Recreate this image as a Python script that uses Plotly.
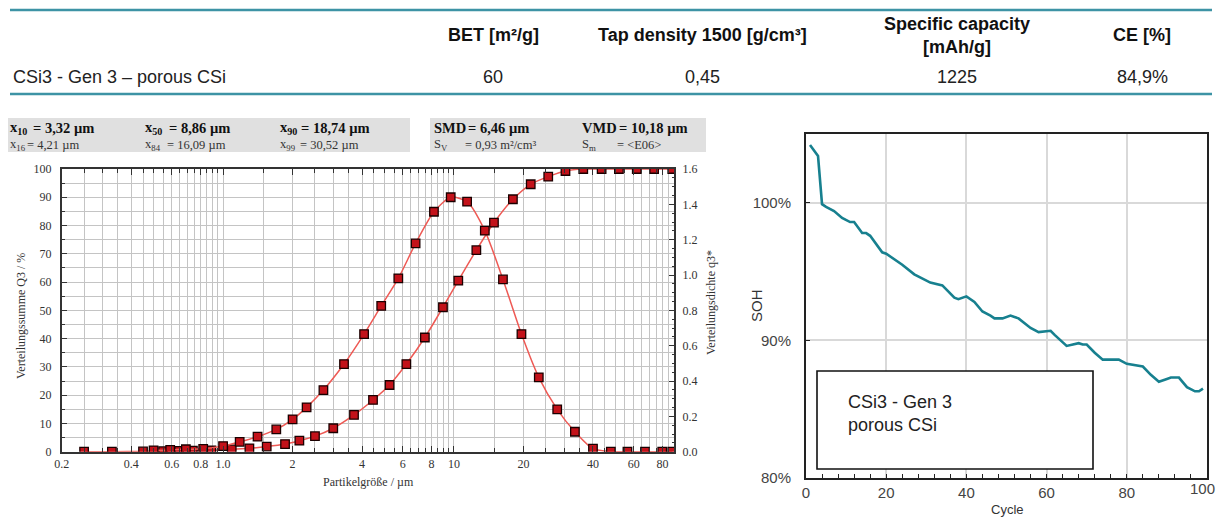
import plotly.graph_objects as go
import math

# page has an 8px body margin; the figure fills the rest of the 1224x526 window
OFF = 8
W, H = 1224 - OFF, 526 - 2 * OFF

# ---------------- data ----------------
TABLE_HEADERS = ["BET [m²/g]", "Tap density 1500 [g/cm³]", "Specific capacity<br>[mAh/g]", "CE [%]"]
TABLE_ROW_LABEL = "CSi3 - Gen 3 – porous CSi"
TABLE_VALUES = ["60", "0,45", "1225", "84,9%"]

STATS_LINE1 = [("x<sub>10</sub>", "= 3,32 µm"), ("x<sub>50</sub>", "= 8,86 µm"), ("x<sub>90</sub>", "= 18,74 µm"),
               ("SMD", "= 6,46 µm"), ("VMD", "= 10,18 µm")]
STATS_LINE2 = [("x<sub>16</sub>", "= 4,21 µm"), ("x<sub>84</sub>", "= 16,09 µm"), ("x<sub>99</sub>", "= 30,52 µm"),
               ("S<sub>V</sub>", "= 0,93 m²/cm³"), ("S<sub>m</sub>", "= &lt;E06&gt;")]

# cumulative distribution Q3 [%]
Q3_SIZE = [0.25, 0.33, 0.45, 0.55, 0.645, 0.74, 0.89, 1.09, 1.30, 1.545, 1.855, 2.14, 2.50, 3.0, 3.69,
           4.46, 5.26, 6.22, 7.48, 8.96, 10.44, 12.5, 14.9, 18.0, 21.5, 25.6, 30.4, 36.3, 43.6, 51.8,
           61.9, 73.6, 88.2]
Q3_VAL = [0, 0, 0.1, 0.2, 0.3, 0.4, 0.5, 0.8, 1.2, 1.8, 2.7, 3.9, 5.5, 8.3, 13.0,
          18.3, 23.6, 31.0, 40.4, 51.1, 60.5, 71.3, 81.0, 89.3, 94.6, 97.3, 99.3, 100, 100, 100,
          100, 100, 100]

# density distribution q3*
q3_SIZE = [0.50, 0.59, 0.69, 0.82, 1.0, 1.18, 1.41, 1.70, 2.0, 2.30, 2.72, 3.34, 4.08, 4.84, 5.74,
           6.82, 8.19, 9.68, 11.4, 13.6, 16.3, 19.6, 23.3, 28.0, 33.4, 40.0, 47.8, 56.4, 67.2, 79.8, 88.2]
q3_VAL = [0.008, 0.010, 0.014, 0.016, 0.032, 0.056, 0.085, 0.126, 0.183, 0.251, 0.349, 0.496, 0.666, 0.825, 0.981,
          1.179, 1.358, 1.440, 1.415, 1.251, 0.975, 0.666, 0.421, 0.240, 0.113, 0.017, 0, 0, 0, 0, 0]

PSD_XLABELS = [0.2, 0.4, 0.6, 0.8, 1.0, 2, 4, 6, 8, 10, 20, 40, 60, 80]
PSD_XTEXT = ["0.2", "0.4", "0.6", "0.8", "1.0", "2", "4", "6", "8", "10", "20", "40", "60", "80"]

# state of health
CYCLE = [1, 3, 4, 5, 7, 9, 11, 12, 14, 15, 16, 19, 20, 22, 24, 27, 29, 31, 34, 37, 38, 40, 42, 44, 46, 47,
         49, 51, 52, 53, 56, 58, 61, 62, 65, 68, 69, 70, 72, 74, 77, 78, 80, 84, 86, 88, 90, 91, 93, 95,
         97, 98, 99]
SOH = [104.2, 103.4, 99.9, 99.7, 99.4, 98.9, 98.6, 98.6, 97.8, 97.8, 97.6, 96.4, 96.3, 95.9, 95.5, 94.8,
       94.5, 94.2, 94.0, 93.1, 93.0, 93.2, 92.8, 92.1, 91.8, 91.6, 91.6, 91.8, 91.7, 91.6, 90.9, 90.6,
       90.7, 90.4, 89.6, 89.8, 89.7, 89.7, 89.1, 88.6, 88.6, 88.6, 88.3, 88.1, 87.5, 87.0, 87.2, 87.3,
       87.3, 86.6, 86.3, 86.3, 86.5]
CYCLE_TICKS = [0, 20, 40, 60, 80, 100]
SOH_TICKS = [80, 90, 100]
SOH_TICKTEXT = ["80%", "90%", "100%"]
SOH_LEGEND = "CSi3 - Gen 3<br>porous CSi"


# ---------------- helpers (reference-pixel -> paper) ----------------
def X(p):
    return (p - OFF) / W


def Y(p):
    return 1 - (p - OFF) / H


SANS = "Liberation Sans, Arial, sans-serif"
SERIF = "Liberation Serif, Times New Roman, serif"
RED_LINE = "#ee5a55"
RED_FILL = "#c3121a"
TEAL = "#17808f"
PSD_GRID = "#c4c4c4"

fig = go.Figure()

marker_style = dict(symbol="square", size=8.5, color=RED_FILL, line=dict(color="#1a0000", width=1.3))
fig.add_trace(go.Scatter(
    x=Q3_SIZE, y=Q3_VAL, mode="lines+markers", xaxis="x", yaxis="y",
    line=dict(color=RED_LINE, width=1.5, shape="spline", smoothing=0.7),
    marker=marker_style, showlegend=False, name="Q3"))
fig.add_trace(go.Scatter(
    x=q3_SIZE, y=q3_VAL, mode="lines+markers", xaxis="x", yaxis="y2",
    line=dict(color=RED_LINE, width=1.5, shape="spline", smoothing=0.7),
    marker=marker_style, showlegend=False, name="q3*"))
fig.add_trace(go.Scatter(
    x=CYCLE, y=SOH, mode="lines", xaxis="x2", yaxis="y3",
    line=dict(color=TEAL, width=2.6), showlegend=False, name="SOH"))

# minor grid positions for the log axis (every half step of the mantissa)
grid_vals = []
for dec in (0.1, 1, 10):
    m = 1.0
    while m < 10 - 1e-9:
        v = round(m * dec, 4)
        if 0.2 - 1e-9 <= v <= 90 + 1e-9:
            grid_vals.append(v)
        m += 0.5

psd_font = dict(family=SERIF, size=12, color="#333")
soh_tick_font = dict(family=SANS, size=15, color="#444")

fig.update_layout(
    width=W, height=H, margin=dict(l=0, r=0, t=0, b=0, autoexpand=False),
    paper_bgcolor="white", plot_bgcolor="white",
    xaxis=dict(domain=[X(61.7), X(674.3)], anchor="y", type="log", automargin=False,
               range=[math.log10(0.2), math.log10(90)],
               tickvals=PSD_XLABELS, ticktext=PSD_XTEXT, ticks="inside", ticklen=6, tickcolor="#333",
               showgrid=True, gridcolor=PSD_GRID, gridwidth=1,
               minor=dict(tickvals=grid_vals, ticks="inside", ticklen=4, tickcolor="#333",
                          showgrid=True, gridcolor=PSD_GRID, gridwidth=1),
               showline=True, linecolor="#333", linewidth=1.5, mirror="ticks",
               tickfont=psd_font, zeroline=False),
    yaxis=dict(domain=[Y(451.7), Y(169)], anchor="x", range=[0, 100], automargin=False,
               dtick=10, tick0=0, ticks="inside", ticklen=6, tickcolor="#333",
               showgrid=True, gridcolor=PSD_GRID, gridwidth=1,
               minor=dict(dtick=5, ticks="inside", ticklen=4, showgrid=True, gridcolor=PSD_GRID, tickcolor="#333"),
               showline=True, linecolor="#333", linewidth=1.5, mirror=False,
               tickfont=psd_font, zeroline=False, ticklabelstandoff=6),
    yaxis2=dict(overlaying="y", anchor="x", side="right", range=[0, 1.6], automargin=False,
                dtick=0.2, tick0=0, tickformat=".1f", ticks="inside", ticklen=6, tickcolor="#333",
                minor=dict(dtick=0.05, ticks="inside", ticklen=3, tickcolor="#333"),
                showgrid=False, showline=True, linecolor="#333", linewidth=1.5,
                tickfont=psd_font, zeroline=False, ticklabelstandoff=4),
    xaxis2=dict(domain=[X(806), X(1207)], anchor="y3", range=[0, 100], automargin=False,
                tickvals=CYCLE_TICKS[:-1], ticks="inside", ticklen=4, tickcolor="#222",
                minor=dict(dtick=4, ticks="inside", ticklen=4, tickcolor="#222", showgrid=False),
                showgrid=True, gridcolor="#d9d9d9", gridwidth=1.5,
                showline=True, linecolor="#222", linewidth=2, mirror=True,
                tickfont=soh_tick_font, zeroline=False),
    yaxis3=dict(domain=[Y(478), Y(134)], anchor="x2", range=[80, 105], automargin=False,
                tickvals=SOH_TICKS, ticktext=SOH_TICKTEXT, ticks="inside", ticklen=4, tickcolor="#222",
                showgrid=True, gridcolor="#d9d9d9", gridwidth=1.5,
                showline=True, linecolor="#222", linewidth=2, mirror=True,
                tickfont=soh_tick_font, zeroline=False, ticklabelstandoff=10),
)

shapes = []
annotations = []


def note(x, y, text, font, xanchor="left", **kw):
    d = dict(x=X(x), y=Y(y), xref="paper", yref="paper", xanchor=xanchor, yanchor="middle",
             text=text, showarrow=False, font=font)
    d.update(kw)
    annotations.append(d)


# last cycle tick label (on the data scale of the cycle axis, nudged left to stay inside the page)
annotations.append(dict(x=CYCLE_TICKS[-1], xref="x2", y=Y(488), yref="paper", xanchor="center",
                        yanchor="middle", text=str(CYCLE_TICKS[-1]), showarrow=False, font=soh_tick_font,
                        xshift=-5))

# ---------- table ----------
for yy in (10, 94):
    shapes.append(dict(type="line", xref="paper", yref="paper", x0=X(10), x1=X(1212), y0=Y(yy), y1=Y(yy),
                       line=dict(color="#3d93a5", width=2.5)))
col_x = [493, 702, 957, 1142]
tfont_b = dict(family=SANS, size=18, color="#111")
tfont = dict(family=SANS, size=18, color="#222")
for cx, head, val in zip(col_x, TABLE_HEADERS, TABLE_VALUES):
    note(cx, 35, "<b>" + head.replace("<br>", "</b><br><b>") + "</b>", tfont_b, xanchor="center")
    note(cx, 77, val, tfont, xanchor="center")
note(11, 77, TABLE_ROW_LABEL, tfont)

# ---------- PSD stats header ----------
for x0, x1 in ((7, 410), (430, 706)):
    shapes.append(dict(type="rect", xref="paper", yref="paper", x0=X(x0), x1=X(x1), y0=Y(152), y1=Y(118),
                       fillcolor="#e0e0e0", line=dict(width=0), layer="below"))
lab_x = [8, 143, 278, 432, 580]
val_x1 = [31, 167, 299, 466, 617]
val_x2 = [25, 165, 298, 463, 615]
sfont_b = dict(family=SERIF, size=14.5, color="#111")
sfont = dict(family=SERIF, size=12.5, color="#333")
for lx, vx, (lab, val) in zip(lab_x, val_x1, STATS_LINE1):
    note(lx, 128, "<b>" + lab + "</b>", sfont_b)
    note(vx, 128, "<b>" + val + "</b>", sfont_b)
for lx, vx, (lab, val) in zip(lab_x, val_x2, STATS_LINE2):
    note(lx, 145, lab, sfont)
    note(vx, 145, val, sfont)

# PSD axis titles
note(21, 316, "Verteilungssumme Q3 / %", psd_font, xanchor="center", textangle=-90)
note(711, 303, "Verteilungsdichte q3*", psd_font, xanchor="center", textangle=-90)
note(368, 482, "Partikelgröße / µm", psd_font, xanchor="center")

# SOH axis titles and legend box
note(756, 306, "SOH", dict(family=SANS, size=15, color="#333"), xanchor="center", textangle=-90)
note(1007, 509, "Cycle", dict(family=SANS, size=13, color="#333"), xanchor="center")
shapes.append(dict(type="rect", xref="paper", yref="paper", x0=X(817), x1=X(1093), y0=Y(469), y1=Y(371),
                   fillcolor="white", line=dict(color="#111", width=1.6), layer="above"))
note(846, 413, SOH_LEGEND, dict(family=SANS, size=18, color="#222"), align="left")

fig.update_layout(shapes=shapes, annotations=annotations)

fig.write_html("out.html", config={"displayModeBar": False})
